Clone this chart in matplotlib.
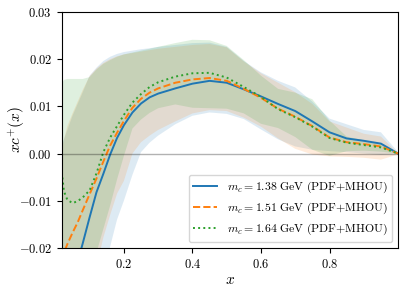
"""xc+(x) for three charm masses, PDF+MHOU bands."""

import matplotlib

matplotlib.use("Agg")
import matplotlib.pyplot as plt

plt.rcParams["mathtext.fontset"] = "cm"
plt.rcParams["font.family"] = "serif"
plt.rcParams["font.serif"] = ["DejaVu Serif"]

# x grid shared by all curves and bands
x = [0.019, 0.025, 0.035, 0.05, 0.065, 0.08, 0.1, 0.12, 0.14, 0.16, 0.18, 0.2,
     0.225, 0.25, 0.275, 0.3, 0.35, 0.4, 0.45, 0.5, 0.55, 0.6, 0.65, 0.7, 0.75,
     0.8, 0.85, 0.9, 0.95, 1.0]

# m_c = 1.38 GeV
c138 = [-0.040, -0.037, -0.032, -0.027, -0.023, -0.0190, -0.0135, -0.0082,
        -0.0043, -0.0002, 0.0033, 0.0060, 0.0087, 0.0106, 0.0119, 0.0127,
        0.0138, 0.0148, 0.0154, 0.0150, 0.0136, 0.0121, 0.0105, 0.0090,
        0.0068, 0.0045, 0.0032, 0.0027, 0.0021, 0.0]
up138 = [0.002, 0.003, 0.005, 0.008, 0.0105, 0.013, 0.0165, 0.0182, 0.0196,
         0.0205, 0.0211, 0.0215, 0.0218, 0.0221, 0.0223, 0.0226, 0.0230,
         0.0234, 0.0235, 0.0226, 0.0196, 0.0172, 0.0154, 0.0140, 0.0110,
         0.0074, 0.0062, 0.0050, 0.0045, 0.0003]
lo138 = [-0.075, -0.070, -0.062, -0.055, -0.048, -0.042, -0.036, -0.030,
         -0.025, -0.0197, -0.0140, -0.0100, -0.0045, 0.0003, 0.0023, 0.0038,
         0.0062, 0.0080, 0.0087, 0.0084, 0.0073, 0.0051, 0.0030, 0.0015,
         0.0008, 0.0005, 0.0003, 0.0, -0.0003, -0.0001]

# m_c = 1.51 GeV
c151 = [-0.0225, -0.021, -0.0192, -0.0168, -0.0146, -0.0120, -0.0086, -0.0053,
        -0.0017, 0.0017, 0.0044, 0.0069, 0.0097, 0.0116, 0.0129, 0.0138,
        0.0150, 0.0157, 0.0160, 0.0154, 0.0137, 0.0118, 0.0095, 0.0078,
        0.0058, 0.0034, 0.0024, 0.0020, 0.0015, 0.0]
up151 = [0.001, 0.003, 0.0058, 0.0085, 0.011, 0.0135, 0.0164, 0.0180, 0.0192,
         0.0200, 0.0206, 0.0210, 0.0213, 0.0216, 0.0219, 0.0222, 0.0226,
         0.0230, 0.0232, 0.0225, 0.0195, 0.0170, 0.0150, 0.0130, 0.0105,
         0.0068, 0.0055, 0.0042, 0.0036, 0.0]
lo151 = [-0.070, -0.065, -0.058, -0.050, -0.043, -0.037, -0.030, -0.024,
         -0.0178, -0.0130, -0.0085, -0.0058, 0.0, 0.0024, 0.0038, 0.0050,
         0.0068, 0.0085, 0.0092, 0.0090, 0.0076, 0.0057, 0.0032, 0.0010,
         -0.0002, -0.0006, -0.0007, -0.0009, -0.0013, -0.0002]

# m_c = 1.64 GeV
c164 = [-0.004, -0.008, -0.0098, -0.0105, -0.0101, -0.0093, -0.0078, -0.0042,
        0.0003, 0.0034, 0.0058, 0.0082, 0.0108, 0.0126, 0.0141, 0.0151,
        0.0163, 0.0170, 0.0171, 0.0161, 0.0141, 0.0120, 0.0094, 0.0077,
        0.0057, 0.0033, 0.0023, 0.0018, 0.0013, 0.0]
up164 = [0.0148, 0.0156, 0.0158, 0.0158, 0.0158, 0.0158, 0.0162, 0.0178,
         0.0190, 0.0198, 0.0205, 0.0210, 0.0214, 0.0218, 0.0222, 0.0226,
         0.0234, 0.0241, 0.0240, 0.0228, 0.0198, 0.0165, 0.0137, 0.0129,
         0.0115, 0.0070, 0.0036, 0.0028, 0.0020, 0.0]
lo164 = [-0.050, -0.048, -0.045, -0.040, -0.036, -0.032, -0.027, -0.021,
         -0.016, -0.011, -0.0055, -0.0005, 0.0053, 0.0072, 0.0086, 0.0096,
         0.0104, 0.0097, 0.0096, 0.0095, 0.0085, 0.0063, 0.0054, 0.0035,
         0.0008, -0.0005, 0.0005, 0.0006, 0.0004, 0.0]

labels = [r"$m_c = 1.38\ \mathrm{GeV\ (PDF{+}MHOU)}$",
          r"$m_c = 1.51\ \mathrm{GeV\ (PDF{+}MHOU)}$",
          r"$m_c = 1.64\ \mathrm{GeV\ (PDF{+}MHOU)}$"]
xticks = [0.2, 0.4, 0.6, 0.8]
yticks = [-0.02, -0.01, 0.0, 0.01, 0.02, 0.03]

fig = plt.figure(figsize=(4.07, 2.91), dpi=100)
ax = fig.add_axes([0.152, 0.148, 0.826, 0.811])

series = [
    (c138, up138, lo138, "C0", "-"),
    (c151, up151, lo151, "C1", "--"),
    (c164, up164, lo164, "C2", ":"),
]
for (c, up, lo, col, ls), lab in zip(series, labels):
    ax.fill_between(x, lo, up, color=col, alpha=0.15, linewidth=0)
    ax.plot(x, c, color=col, ls=ls, lw=1.4, label=lab)

ax.axhline(0, color="black", alpha=0.3, lw=1)

ax.set_xlim(0.019, 1.0)
ax.set_ylim(-0.02, 0.03)
ax.set_xticks(xticks)
ax.set_xticklabels([f"${t:.1f}$" for t in xticks], fontsize=9)
ax.set_yticks(yticks)
ax.set_yticklabels([f"${t:.2f}$" for t in yticks], fontsize=9)
ax.set_xlabel(r"$x$", fontsize=11, labelpad=2)
ax.set_ylabel(r"$xc^{+}(x)$", fontsize=11)
ax.yaxis.set_label_coords(-0.105, 0.5)

ax.legend(loc="lower right", fontsize=8.5)

fig.savefig("out.png", dpi=100)
